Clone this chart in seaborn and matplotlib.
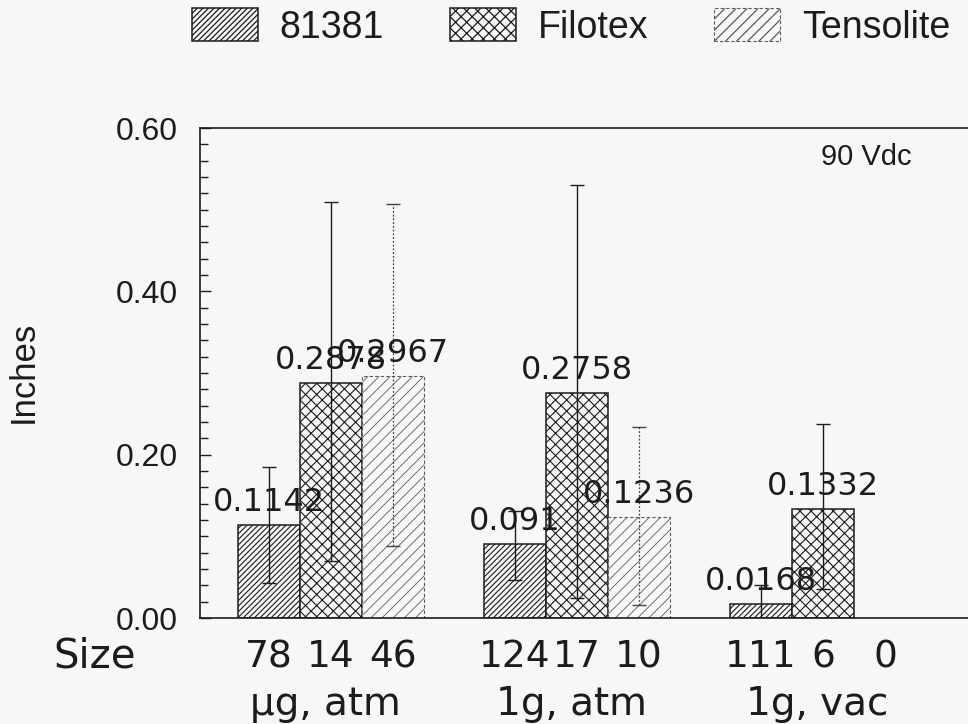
import numpy as np
import pandas as pd
import matplotlib
matplotlib.use("Agg")
import matplotlib.pyplot as plt
import seaborn as sns
from matplotlib.patches import Patch
from matplotlib.ticker import MultipleLocator, FormatStrFormatter

# ---------------- data ----------------
conditions = ["\u03bcg, atm", "1g, atm", "1g, vac"]
wires = ["81381", "Filotex", "Tensolite"]

vals_81381 = [0.1142, 0.091, 0.0168]
vals_filotex = [0.2878, 0.2758, 0.1332]
vals_tensolite = [0.2967, 0.1236, 0.0]

low_81381 = [0.043, 0.046, -0.006]
high_81381 = [0.185, 0.131, 0.040]
low_filotex = [0.070, 0.025, 0.035]
high_filotex = [0.509, 0.530, 0.237]
low_tensolite = [0.088, 0.016, 0.0]
high_tensolite = [0.507, 0.234, 0.0]

size_81381 = [78, 124, 111]
size_filotex = [14, 17, 6]
size_tensolite = [46, 10, 0]

y_ticks = [0.0, 0.2, 0.4, 0.6]
note = "90 Vdc"

# ---------------- style ----------------
BG = "#f7f7f5"
INK = "#1c1c1c"
sns.set_style("ticks")
plt.rcParams["font.family"] = ["Liberation Sans", "DejaVu Sans"]
plt.rcParams["hatch.linewidth"] = 0.9
plt.rcParams["text.color"] = INK
WIDE = ["DejaVu Sans"]

values = [vals_81381, vals_filotex, vals_tensolite]
lows = [low_81381, low_filotex, low_tensolite]
highs = [high_81381, high_filotex, high_tensolite]
sizes = [size_81381, size_filotex, size_tensolite]

df = pd.DataFrame({
    "condition": [c for _ in wires for c in conditions],
    "wire": [w for w in wires for _ in conditions],
    "inches": [v for s in values for v in s],
})

fig = plt.figure(figsize=(9.68, 7.24), dpi=100, facecolor=BG)
ax = fig.add_axes([200 / 968, 1 - 618 / 724, 768 / 968, 490 / 724])
ax.set_facecolor(BG)

sns.barplot(data=df, x="condition", y="inches", hue="wire", order=conditions,
            hue_order=wires, palette=[BG, BG, BG], saturation=1, width=0.756,
            gap=0, errorbar=None, legend=False, edgecolor=INK, linewidth=1.1,
            ax=ax, zorder=2)

bar_conts = list(ax.containers)
hatches = ["//////", "xxx", "///"]
for i, cont in enumerate(bar_conts):
    for bar in cont:
        bar.set_hatch(hatches[i])
        if i == 2:
            bar.set_edgecolor("#5a5a5a")
            bar.set_linestyle((0, (3, 2)))
            bar.set_linewidth(0.8)
            if hasattr(bar, "set_hatch_linewidth"):
                bar.set_hatch_linewidth(0.6)
        elif hasattr(bar, "set_hatch_linewidth"):
            bar.set_hatch_linewidth(0.8)

# error bars, value labels, sample sizes
for i, cont in enumerate(bar_conts):
    for j, bar in enumerate(cont):
        x = bar.get_x() + bar.get_width() / 2
        ax.annotate(str(sizes[i][j]), xy=(x, 0), xycoords=("data", "axes fraction"),
                    xytext=(0, -35.3), textcoords="offset points", ha="center",
                    va="baseline", fontsize=27, family=WIDE, color=INK,
                    annotation_clip=False)
        if sizes[i][j] == 0:
            continue
        v = values[i][j]
        eb = ax.errorbar([x], [v], yerr=[[v - lows[i][j]], [highs[i][j] - v]],
                         fmt="none", ecolor=INK if i < 2 else "#444444",
                         elinewidth=1.0 if i < 2 else 0.9, capsize=5.3,
                         capthick=1.0, zorder=3)
        if i == 2:
            eb[2][0].set_linestyle((0, (1.5, 1.5)))
        ax.annotate(str(v), xy=(x, v), xytext=(0, 10), textcoords="offset points",
                    ha="center", va="baseline", fontsize=23, family=WIDE,
                    color=INK, zorder=4)

ax.set_xticks([])
for k, c in enumerate(conditions):
    ax.annotate(c, xy=(k, 0), xycoords=("data", "axes fraction"),
                xytext=(-4, -70), textcoords="offset points", ha="center",
                va="baseline", fontsize=28, family=WIDE, color=INK,
                annotation_clip=False)

ax.set_xlim(-0.5325, 2.589)
ax.set_ylim(0, 0.6)
ax.set_yticks(y_ticks)
ax.yaxis.set_major_formatter(FormatStrFormatter("%.2f"))
ax.yaxis.set_minor_locator(MultipleLocator(0.02))
ax.tick_params(axis="y", which="major", direction="in", length=8, width=1.0,
               labelsize=23, pad=16, colors=INK)
ax.tick_params(axis="y", which="minor", direction="in", length=6, width=1.0,
               colors=INK)
ax.set_xlabel("")
ax.set_ylabel("")

for s in ["left", "bottom", "top"]:
    ax.spines[s].set_visible(True)
    ax.spines[s].set_color(INK)
    ax.spines[s].set_linewidth(1.2)
ax.spines["right"].set_visible(False)

ax.text((866 - 200) / 768, (618 - 157) / 490, note, transform=ax.transAxes,
        ha="center", va="center", fontsize=21, color=INK)

fig.text(23 / 968, 1 - 372 / 724, "Inches", rotation=90, ha="center",
         va="center", fontsize=25, color=INK)
fig.text(95 / 968, 1 - 667 / 724, "Size", ha="center", va="baseline",
         fontsize=29, family=WIDE, color=INK)

handles = [
    Patch(facecolor=BG, edgecolor=INK, hatch="//////", linewidth=1.1),
    Patch(facecolor=BG, edgecolor=INK, hatch="xxx", linewidth=1.1),
    Patch(facecolor=BG, edgecolor="#5a5a5a", hatch="///", linewidth=0.8,
          linestyle=(0, (3, 2))),
]
fig.legend(handles, wires, loc="center", bbox_to_anchor=(0.590, 1 - 27 / 724),
           ncol=3, frameon=False, fontsize=27, handlelength=1.76,
           handleheight=0.95, handletextpad=0.59, columnspacing=1.75)

fig.savefig("out.png", dpi=100, facecolor=BG)
